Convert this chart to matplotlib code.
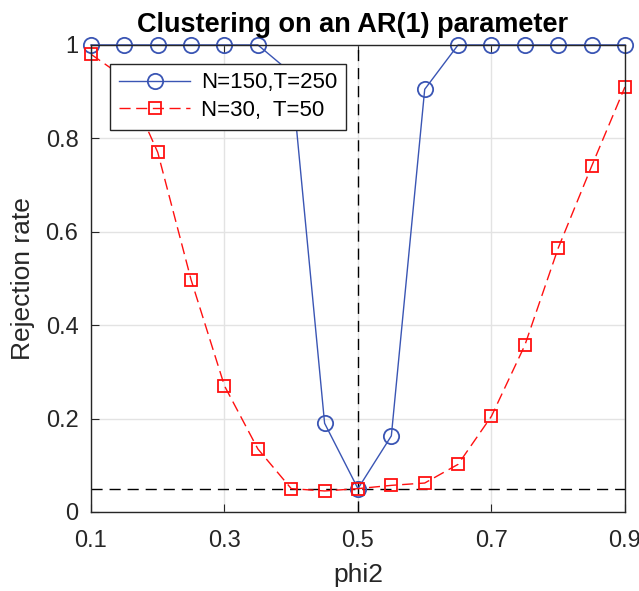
import matplotlib.pyplot as plt

# data
phi2 = [0.10, 0.15, 0.20, 0.25, 0.30, 0.35, 0.40, 0.45, 0.50,
        0.55, 0.60, 0.65, 0.70, 0.75, 0.80, 0.85, 0.90]
rej_large = [1.0, 1.0, 1.0, 1.0, 1.0, 1.0, 0.94, 0.19, 0.05,
             0.163, 0.905, 1.0, 1.0, 1.0, 1.0, 1.0, 1.0]
rej_small = [0.98, 0.93, 0.77, 0.497, 0.27, 0.135, 0.05, 0.045, 0.05,
             0.057, 0.062, 0.102, 0.205, 0.357, 0.565, 0.74, 0.91]
xticks = [0.1, 0.3, 0.5, 0.7, 0.9]
yticks = [0, 0.2, 0.4, 0.6, 0.8, 1]

plt.rcParams['font.family'] = ['Liberation Sans', 'DejaVu Sans']

fig = plt.figure(figsize=(6.39, 5.91), dpi=100)
ax = fig.add_axes([0.1424, 0.1337, 0.8356, 0.7903])

ax.plot(phi2, rej_large, '-o', color='#3a55b4', lw=1.0, ms=11,
        mfc='none', mew=1.3, label='N=150,T=250', clip_on=False, zorder=2.5)
ax.plot(phi2, rej_small, '--s', color='#ff1010', lw=1.0, ms=9,
        mfc='none', mew=1.3, dashes=(8, 4), label='N=30,  T=50',
        clip_on=False, zorder=2.5)

# reference lines
ax.axvline(0.5, color='black', ls='--', lw=1.0, dashes=(8, 5))
ax.axhline(0.05, color='black', ls='--', lw=1.0, dashes=(8, 5))

ax.set_xlim(0.1, 0.9)
ax.set_ylim(0, 1)
ax.set_xticks(xticks)
ax.set_xticklabels(['0.1', '0.3', '0.5', '0.7', '0.9'])
ax.set_yticks(yticks)
ax.set_yticklabels(['0', '0.2', '0.4', '0.6', '0.8', '1'])
ax.grid(True, color='#e3e3e3', lw=1.0)
ax.set_axisbelow(True)
ax.tick_params(direction='in', labelsize=17, colors='#262626', length=6,
               top=True, right=False)
ax.tick_params(axis='x', pad=13)
ax.tick_params(axis='y', pad=9)
for s in ax.spines.values():
    s.set_color('#262626')
    s.set_linewidth(1.0)

ax.set_xlabel('phi2', fontsize=19, color='#262626', labelpad=8)
ax.set_ylabel('Rejection rate', fontsize=19, color='#262626', labelpad=8)
ax.set_title('Clustering on an AR(1) parameter', fontsize=19.5,
             fontweight='bold', pad=9, x=0.49)

leg = ax.legend(loc='upper left', bbox_to_anchor=(0.036, 0.96),
                borderaxespad=0, fontsize=16, frameon=True, fancybox=False,
                edgecolor='#262626', framealpha=1, handlelength=3.2,
                borderpad=0.4, labelspacing=0.3, handletextpad=0.5)
leg.get_frame().set_linewidth(1.0)
leg.set_zorder(10)

fig.savefig('out.png', dpi=100)
